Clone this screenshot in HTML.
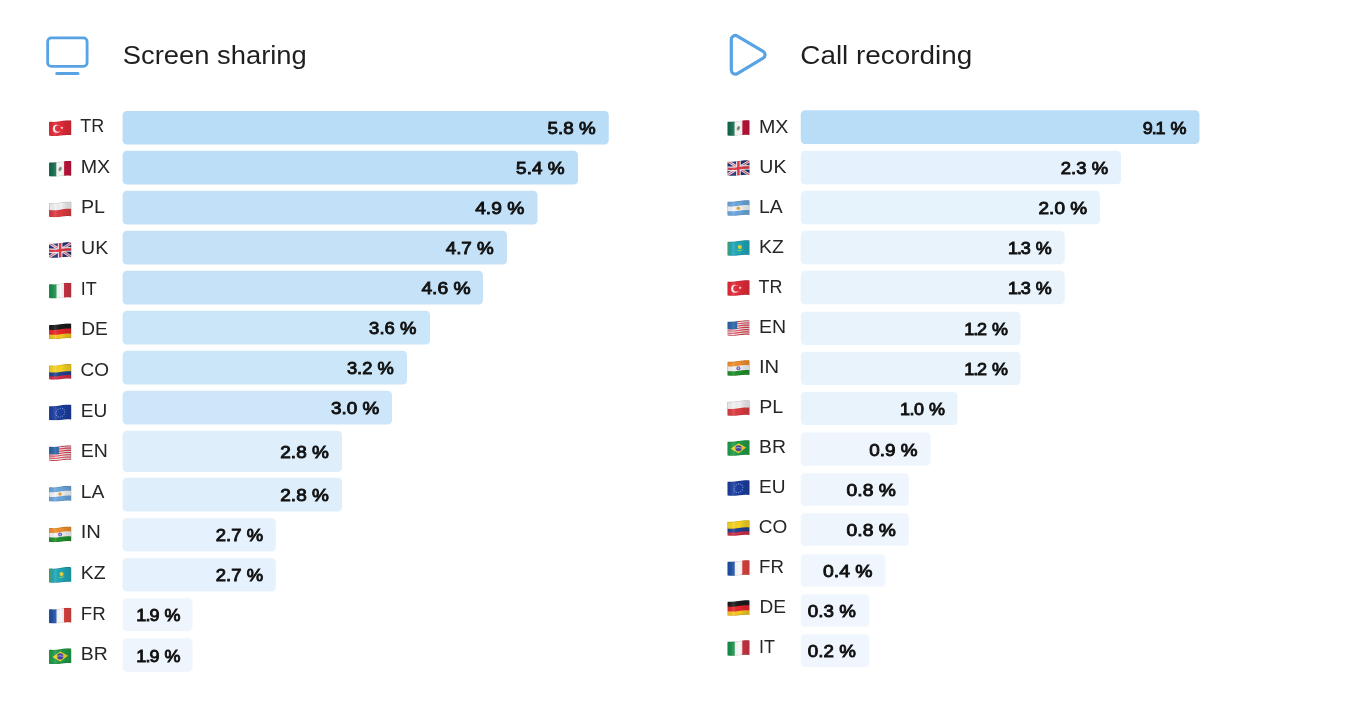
<!DOCTYPE html>
<html lang="en">
<head>
<meta charset="utf-8">
<title>Screen sharing and call recording usage by country</title>
<style>

html,body{margin:0;padding:0;background:#fff;}
body{width:1360px;height:706px;overflow:hidden;position:relative;font-family:"Liberation Sans", sans-serif;}
.defs{position:absolute;left:0;top:0;width:0;height:0;overflow:hidden;}
.board{position:absolute;left:0;top:0;width:1360px;height:706px;overflow:hidden;background:#fff;}
.chart,.rows,.row,.chart-head{margin:0;padding:0;list-style:none;}
.icon{position:absolute;overflow:visible;}
.title{position:absolute;margin:0;font-weight:400;color:#1f1f1f;white-space:nowrap;transform-origin:0 0;}
.flag{position:absolute;display:block;overflow:visible;}
.code{position:absolute;font-weight:400;color:#262626;white-space:nowrap;transform-origin:0 0;}
.bar{position:absolute;display:block;overflow:visible;}
.val{position:absolute;font-weight:400;color:#111111;-webkit-text-stroke:0.9px #111111;white-space:nowrap;transform-origin:0 0;}

</style>
</head>
<body>
<svg class="defs" width="0" height="0" aria-hidden="true" focusable="false"><defs><mask id="fmask" maskUnits="userSpaceOnUse" x="-1" y="-1" width="24" height="18"><path d="M0,2.20 Q0,1.48 0.7,1.54 C4,1.83 7,1.80 11,0.95 C15,0.10 18,-0.10 21.3,0.10 Q22,0.15 22,0.85 L22,14.15 Q22,14.85 21.3,14.80 C18,14.48 15,14.59 11,15.33 C7,16.06 4,16.00 0.7,15.59 Q0,15.53 0,14.85 Z" fill="#fff"/></mask><linearGradient id="fshade" x1="0" y1="0" x2="1" y2="0"><stop offset="0" stop-color="#000" stop-opacity="0.17"/><stop offset="0.09" stop-color="#000" stop-opacity="0.05"/><stop offset="0.30" stop-color="#fff" stop-opacity="0.12"/><stop offset="0.52" stop-color="#000" stop-opacity="0.0"/><stop offset="0.74" stop-color="#000" stop-opacity="0.10"/><stop offset="0.90" stop-color="#000" stop-opacity="0.13"/><stop offset="1" stop-color="#000" stop-opacity="0.08"/></linearGradient><symbol id="flag-tr" viewBox="0 0 22 15.75" preserveAspectRatio="none"><g mask="url(#fmask)"><rect x="-1" y="-1" width="24" height="18" fill="#e12a38"/><circle cx="7.7" cy="8.54" r="4.0" fill="#fbeff0"/><circle cx="9.0" cy="8.28" r="3.2" fill="#e12a38"/><polygon points="14.22,7.12 13.25,7.85 13.60,9.02 12.60,8.32 11.60,9.02 11.95,7.85 10.98,7.12 12.20,7.09 12.60,5.94 13.00,7.09" fill="#fbeff0"/><rect x="-1" y="-1" width="24" height="18" fill="url(#fshade)"/><path d="M0,2.20 Q0,1.48 0.7,1.54 C4,1.83 7,1.80 11,0.95 C15,0.10 18,-0.10 21.3,0.10 Q22,0.15 22,0.85 L22,14.15 Q22,14.85 21.3,14.80 C18,14.48 15,14.59 11,15.33 C7,16.06 4,16.00 0.7,15.59 Q0,15.53 0,14.85 Z" fill="none" stroke="#000" stroke-opacity="0.13" stroke-width="1.3"/></g></symbol><symbol id="flag-mx" viewBox="0 0 22 15.75" preserveAspectRatio="none"><g mask="url(#fmask)"><rect x="-1" y="-1" width="24" height="18" fill="#f8f8f6"/><rect x="-1" y="-1" width="8.1" height="18" fill="#12694d"/><rect x="14.8" y="-1" width="8.2" height="18" fill="#c3143a"/><ellipse cx="10.9" cy="8.16" rx="1.6" ry="2.5" fill="#a3a49a" transform="rotate(25 10.9 8.16)"/><ellipse cx="10.9" cy="8.16" rx="0.8" ry="1.5" fill="#7b7c70" transform="rotate(25 10.9 8.16)"/><rect x="-1" y="-1" width="24" height="18" fill="url(#fshade)"/><path d="M0,2.20 Q0,1.48 0.7,1.54 C4,1.83 7,1.80 11,0.95 C15,0.10 18,-0.10 21.3,0.10 Q22,0.15 22,0.85 L22,14.15 Q22,14.85 21.3,14.80 C18,14.48 15,14.59 11,15.33 C7,16.06 4,16.00 0.7,15.59 Q0,15.53 0,14.85 Z" fill="none" stroke="#000" stroke-opacity="0.13" stroke-width="1.3"/></g></symbol><symbol id="flag-pl" viewBox="0 0 22 15.75" preserveAspectRatio="none"><g mask="url(#fmask)"><rect x="-1" y="-1" width="24" height="18" fill="#dc3b40"/><path d="M0,-1.50 C4,-1.15 7,-1.20 11,-2.05 C15,-2.90 18,-3.10 22,-2.85 L22,7.50 C18,7.19 15,7.35 11,8.14 C7,8.93 4,8.93 0,8.53 Z" fill="#f1f1f3"/><rect x="-1" y="-1" width="24" height="18" fill="url(#fshade)"/><path d="M0,2.20 Q0,1.48 0.7,1.54 C4,1.83 7,1.80 11,0.95 C15,0.10 18,-0.10 21.3,0.10 Q22,0.15 22,0.85 L22,14.15 Q22,14.85 21.3,14.80 C18,14.48 15,14.59 11,15.33 C7,16.06 4,16.00 0.7,15.59 Q0,15.53 0,14.85 Z" fill="none" stroke="#000" stroke-opacity="0.13" stroke-width="1.3"/></g></symbol><symbol id="flag-uk" viewBox="0 0 22 15.75" preserveAspectRatio="none"><g mask="url(#fmask)"><rect x="-1" y="-1" width="24" height="18" fill="#222f74"/><g transform="translate(0,0.75)"><path d="M-1,-0.6 L23,14.8 M23,-0.6 L-1,14.8" stroke="#efeaf0" stroke-width="2.7"/><path d="M-1,-0.6 L23,14.8 M23,-0.6 L-1,14.8" stroke="#d9414d" stroke-width="0.9"/></g><path d="M0,6.23 C4,6.61 7,6.59 11,5.78 C15,4.97 18,4.80 22,5.09 L22,9.91 C18,9.58 15,9.72 11,10.49 C7,11.26 4,11.25 0,10.82 Z" fill="#efeaf0"/><rect x="8.6" y="-1" width="4.6" height="18" fill="#efeaf0"/><path d="M0,7.33 C4,7.72 7,7.71 11,6.91 C15,6.11 18,5.95 22,6.24 L22,8.76 C18,8.44 15,8.58 11,9.37 C7,10.15 4,10.14 0,9.72 Z" fill="#dc3a47"/><rect x="9.7" y="-1" width="2.4" height="18" fill="#dc3a47"/><rect x="-1" y="-1" width="24" height="18" fill="url(#fshade)"/><path d="M0,2.20 Q0,1.48 0.7,1.54 C4,1.83 7,1.80 11,0.95 C15,0.10 18,-0.10 21.3,0.10 Q22,0.15 22,0.85 L22,14.15 Q22,14.85 21.3,14.80 C18,14.48 15,14.59 11,15.33 C7,16.06 4,16.00 0.7,15.59 Q0,15.53 0,14.85 Z" fill="none" stroke="#000" stroke-opacity="0.13" stroke-width="1.3"/></g></symbol><symbol id="flag-it" viewBox="0 0 22 15.75" preserveAspectRatio="none"><g mask="url(#fmask)"><rect x="-1" y="-1" width="24" height="18" fill="#f8f8f7"/><rect x="-1" y="-1" width="8.3" height="18" fill="#168f49"/><rect x="14.7" y="-1" width="8.3" height="18" fill="#cf3545"/><rect x="-1" y="-1" width="24" height="18" fill="url(#fshade)"/><path d="M0,2.20 Q0,1.48 0.7,1.54 C4,1.83 7,1.80 11,0.95 C15,0.10 18,-0.10 21.3,0.10 Q22,0.15 22,0.85 L22,14.15 Q22,14.85 21.3,14.80 C18,14.48 15,14.59 11,15.33 C7,16.06 4,16.00 0.7,15.59 Q0,15.53 0,14.85 Z" fill="none" stroke="#000" stroke-opacity="0.13" stroke-width="1.3"/></g></symbol><symbol id="flag-fr" viewBox="0 0 22 15.75" preserveAspectRatio="none"><g mask="url(#fmask)"><rect x="-1" y="-1" width="24" height="18" fill="#f8f8f8"/><rect x="-1" y="-1" width="8.3" height="18" fill="#1c4ea3"/><rect x="14.7" y="-1" width="8.3" height="18" fill="#e0443f"/><rect x="-1" y="-1" width="24" height="18" fill="url(#fshade)"/><path d="M0,2.20 Q0,1.48 0.7,1.54 C4,1.83 7,1.80 11,0.95 C15,0.10 18,-0.10 21.3,0.10 Q22,0.15 22,0.85 L22,14.15 Q22,14.85 21.3,14.80 C18,14.48 15,14.59 11,15.33 C7,16.06 4,16.00 0.7,15.59 Q0,15.53 0,14.85 Z" fill="none" stroke="#000" stroke-opacity="0.13" stroke-width="1.3"/></g></symbol><symbol id="flag-de" viewBox="0 0 22 15.75" preserveAspectRatio="none"><g mask="url(#fmask)"><rect x="-1" y="-1" width="24" height="18" fill="#f3c621"/><path d="M0,-1.50 C4,-1.15 7,-1.20 11,-2.05 C15,-2.90 18,-3.10 22,-2.85 L22,10.29 C18,9.96 15,10.10 11,10.87 C7,11.64 4,11.63 0,11.19 Z" fill="#e6262b"/><path d="M0,-1.50 C4,-1.15 7,-1.20 11,-2.05 C15,-2.90 18,-3.10 22,-2.85 L22,5.22 C18,4.93 15,5.10 11,5.91 C7,6.72 4,6.74 0,6.35 Z" fill="#1b1b1b"/><rect x="-1" y="-1" width="24" height="18" fill="url(#fshade)"/><path d="M0,2.20 Q0,1.48 0.7,1.54 C4,1.83 7,1.80 11,0.95 C15,0.10 18,-0.10 21.3,0.10 Q22,0.15 22,0.85 L22,14.15 Q22,14.85 21.3,14.80 C18,14.48 15,14.59 11,15.33 C7,16.06 4,16.00 0.7,15.59 Q0,15.53 0,14.85 Z" fill="none" stroke="#000" stroke-opacity="0.13" stroke-width="1.3"/></g></symbol><symbol id="flag-co" viewBox="0 0 22 15.75" preserveAspectRatio="none"><g mask="url(#fmask)"><rect x="-1" y="-1" width="24" height="18" fill="#cf2d47"/><path d="M0,-1.50 C4,-1.15 7,-1.20 11,-2.05 C15,-2.90 18,-3.10 22,-2.85 L22,11.32 C18,10.98 15,11.11 11,11.88 C7,12.64 4,12.62 0,12.18 Z" fill="#22418f"/><path d="M0,-1.50 C4,-1.15 7,-1.20 11,-2.05 C15,-2.90 18,-3.10 22,-2.85 L22,7.35 C18,7.05 15,7.20 11,7.99 C7,8.79 4,8.79 0,8.38 Z" fill="#f5d223"/><rect x="-1" y="-1" width="24" height="18" fill="url(#fshade)"/><path d="M0,2.20 Q0,1.48 0.7,1.54 C4,1.83 7,1.80 11,0.95 C15,0.10 18,-0.10 21.3,0.10 Q22,0.15 22,0.85 L22,14.15 Q22,14.85 21.3,14.80 C18,14.48 15,14.59 11,15.33 C7,16.06 4,16.00 0.7,15.59 Q0,15.53 0,14.85 Z" fill="none" stroke="#000" stroke-opacity="0.13" stroke-width="1.3"/></g></symbol><symbol id="flag-eu" viewBox="0 0 22 15.75" preserveAspectRatio="none"><g mask="url(#fmask)"><rect x="-1" y="-1" width="24" height="18" fill="#1b3d9e"/><circle cx="15.40" cy="7.48" r="0.6" fill="#7f9fe0"/><circle cx="14.81" cy="9.72" r="0.6" fill="#7f9fe0"/><circle cx="13.20" cy="11.52" r="0.6" fill="#7f9fe0"/><circle cx="11.00" cy="12.49" r="0.6" fill="#7f9fe0"/><circle cx="8.80" cy="12.28" r="0.6" fill="#7f9fe0"/><circle cx="7.19" cy="10.86" r="0.6" fill="#7f9fe0"/><circle cx="6.60" cy="8.73" r="0.6" fill="#7f9fe0"/><circle cx="7.19" cy="6.51" r="0.6" fill="#7f9fe0"/><circle cx="8.80" cy="4.74" r="0.6" fill="#7f9fe0"/><circle cx="11.00" cy="3.78" r="0.6" fill="#7f9fe0"/><circle cx="13.20" cy="3.98" r="0.6" fill="#7f9fe0"/><circle cx="14.81" cy="5.37" r="0.6" fill="#7f9fe0"/><rect x="-1" y="-1" width="24" height="18" fill="url(#fshade)"/><path d="M0,2.20 Q0,1.48 0.7,1.54 C4,1.83 7,1.80 11,0.95 C15,0.10 18,-0.10 21.3,0.10 Q22,0.15 22,0.85 L22,14.15 Q22,14.85 21.3,14.80 C18,14.48 15,14.59 11,15.33 C7,16.06 4,16.00 0.7,15.59 Q0,15.53 0,14.85 Z" fill="none" stroke="#000" stroke-opacity="0.13" stroke-width="1.3"/></g></symbol><symbol id="flag-en" viewBox="0 0 22 15.75" preserveAspectRatio="none"><g mask="url(#fmask)"><rect x="-1" y="-1" width="24" height="18" fill="#f3ecee"/><path d="M0,1.48 C4,1.83 7,1.78 11,0.93 C15,0.08 18,-0.12 22,0.13 L22,1.28 C18,1.02 15,1.21 11,2.06 C7,2.90 4,2.94 0,2.58 Z" fill="#dc4251"/><path d="M0,3.64 C4,4.01 7,3.97 11,3.14 C15,2.31 18,2.12 22,2.39 L22,3.54 C18,3.27 15,3.44 11,4.27 C7,5.09 4,5.12 0,4.74 Z" fill="#dc4251"/><path d="M0,5.80 C4,6.19 7,6.17 11,5.35 C15,4.54 18,4.37 22,4.65 L22,5.80 C18,5.51 15,5.67 11,6.48 C7,7.28 4,7.30 0,6.90 Z" fill="#dc4251"/><path d="M0,7.96 C4,8.37 7,8.36 11,7.56 C15,6.77 18,6.61 22,6.91 L22,8.07 C18,7.75 15,7.90 11,8.69 C7,9.48 4,9.48 0,9.07 Z" fill="#dc4251"/><path d="M0,10.13 C4,10.55 7,10.55 11,9.78 C15,9.00 18,8.85 22,9.18 L22,10.33 C18,10.00 15,10.13 11,10.90 C7,11.67 4,11.66 0,11.23 Z" fill="#dc4251"/><path d="M0,12.29 C4,12.73 7,12.75 11,11.99 C15,11.23 18,11.10 22,11.44 L22,12.59 C18,12.24 15,12.36 11,13.11 C7,13.86 4,13.84 0,13.39 Z" fill="#dc4251"/><path d="M0,14.45 C4,14.91 7,14.94 11,14.20 C15,13.46 18,13.34 22,13.70 L22,14.85 C18,14.48 15,14.59 11,15.33 C7,16.06 4,16.02 0,15.55 Z" fill="#dc4251"/><path d="M-1,-1 L9.6,-1 L9.6,8.85 Q5,9.30 -1,8.99 Z" fill="#2a65a8"/><rect x="-1" y="-1" width="24" height="18" fill="url(#fshade)"/><path d="M0,2.20 Q0,1.48 0.7,1.54 C4,1.83 7,1.80 11,0.95 C15,0.10 18,-0.10 21.3,0.10 Q22,0.15 22,0.85 L22,14.15 Q22,14.85 21.3,14.80 C18,14.48 15,14.59 11,15.33 C7,16.06 4,16.00 0.7,15.59 Q0,15.53 0,14.85 Z" fill="none" stroke="#000" stroke-opacity="0.13" stroke-width="1.3"/></g></symbol><symbol id="flag-la" viewBox="0 0 22 15.75" preserveAspectRatio="none"><g mask="url(#fmask)"><rect x="-1" y="-1" width="24" height="18" fill="#6aa6dc"/><path d="M0,6.18 C4,6.57 7,6.55 11,5.74 C15,4.93 18,4.76 22,5.05 L22,9.95 C18,9.62 15,9.76 11,10.53 C7,11.30 4,11.30 0,10.87 Z" fill="#f4f5f7"/><circle cx="10.8" cy="8.18" r="1.75" fill="#e3a63a"/><rect x="-1" y="-1" width="24" height="18" fill="url(#fshade)"/><path d="M0,2.20 Q0,1.48 0.7,1.54 C4,1.83 7,1.80 11,0.95 C15,0.10 18,-0.10 21.3,0.10 Q22,0.15 22,0.85 L22,14.15 Q22,14.85 21.3,14.80 C18,14.48 15,14.59 11,15.33 C7,16.06 4,16.00 0.7,15.59 Q0,15.53 0,14.85 Z" fill="none" stroke="#000" stroke-opacity="0.13" stroke-width="1.3"/></g></symbol><symbol id="flag-in" viewBox="0 0 22 15.75" preserveAspectRatio="none"><g mask="url(#fmask)"><rect x="-1" y="-1" width="24" height="18" fill="#1f8e2b"/><path d="M0,-1.50 C4,-1.15 7,-1.20 11,-2.05 C15,-2.90 18,-3.10 22,-2.85 L22,9.95 C18,9.62 15,9.76 11,10.53 C7,11.30 4,11.30 0,10.87 Z" fill="#f2f2f4"/><path d="M0,-1.50 C4,-1.15 7,-1.20 11,-2.05 C15,-2.90 18,-3.10 22,-2.85 L22,5.05 C18,4.76 15,4.93 11,5.74 C7,6.55 4,6.57 0,6.18 Z" fill="#ef8e2c"/><circle cx="10.9" cy="8.16" r="2.0" fill="#6761b4"/><circle cx="10.9" cy="8.16" r="0.95" fill="#bdb9e6"/><rect x="-1" y="-1" width="24" height="18" fill="url(#fshade)"/><path d="M0,2.20 Q0,1.48 0.7,1.54 C4,1.83 7,1.80 11,0.95 C15,0.10 18,-0.10 21.3,0.10 Q22,0.15 22,0.85 L22,14.15 Q22,14.85 21.3,14.80 C18,14.48 15,14.59 11,15.33 C7,16.06 4,16.00 0.7,15.59 Q0,15.53 0,14.85 Z" fill="none" stroke="#000" stroke-opacity="0.13" stroke-width="1.3"/></g></symbol><symbol id="flag-kz" viewBox="0 0 22 15.75" preserveAspectRatio="none"><g mask="url(#fmask)"><rect x="-1" y="-1" width="24" height="18" fill="#1ea6b8"/><rect x="-1" y="-1" width="3.3" height="18" fill="#43a57c"/><circle cx="12.3" cy="6.91" r="2.0" fill="#e6d43c"/><path d="M8.7,9.61 Q12.3,13.14 15.9,8.54 Q12.3,10.77 8.7,9.61 Z" fill="#86c558"/><rect x="-1" y="-1" width="24" height="18" fill="url(#fshade)"/><path d="M0,2.20 Q0,1.48 0.7,1.54 C4,1.83 7,1.80 11,0.95 C15,0.10 18,-0.10 21.3,0.10 Q22,0.15 22,0.85 L22,14.15 Q22,14.85 21.3,14.80 C18,14.48 15,14.59 11,15.33 C7,16.06 4,16.00 0.7,15.59 Q0,15.53 0,14.85 Z" fill="none" stroke="#000" stroke-opacity="0.13" stroke-width="1.3"/></g></symbol><symbol id="flag-br" viewBox="0 0 22 15.75" preserveAspectRatio="none"><g mask="url(#fmask)"><rect x="-1" y="-1" width="24" height="18" fill="#1f9b47"/><polygon points="3.3,8.77 11,3.09 18.7,7.35 11,13.18" fill="#f2d12f"/><circle cx="11" cy="8.14" r="3.1" fill="#48449a"/><path d="M8.0,8.01 Q11,6.75 14.0,8.14" stroke="#cfd4ee" stroke-width="0.7" fill="none"/><rect x="-1" y="-1" width="24" height="18" fill="url(#fshade)"/><path d="M0,2.20 Q0,1.48 0.7,1.54 C4,1.83 7,1.80 11,0.95 C15,0.10 18,-0.10 21.3,0.10 Q22,0.15 22,0.85 L22,14.15 Q22,14.85 21.3,14.80 C18,14.48 15,14.59 11,15.33 C7,16.06 4,16.00 0.7,15.59 Q0,15.53 0,14.85 Z" fill="none" stroke="#000" stroke-opacity="0.13" stroke-width="1.3"/></g></symbol></defs></svg>
<main class="board">
<section class="chart" aria-label="Screen sharing">
<header class="chart-head">
<svg class="icon" style="left:0;top:0" width="110" height="90" viewBox="0 0 110 90" aria-hidden="true"><rect x="47.65" y="37.9" width="39.45" height="28.45" rx="3.7" ry="3.7" fill="none" stroke="#57a3e4" stroke-width="2.8"/><line x1="56.75" y1="73.5" x2="78.0" y2="73.5" stroke="#57a3e4" stroke-width="3" stroke-linecap="round"/></svg>
<h2 class="title" style="left:122px;top:40px;font-size:25.9px;line-height:30px;transform:translateX(0.74px) scaleX(1.0568)">Screen sharing</h2>
</header>
<ul class="rows">
<li class="row">
<svg class="flag" style="left:48px;top:119px" width="26" height="19" role="img" aria-label="Turkey"><use href="#flag-tr" x="1.05" y="1.25" width="22.4" height="15.75"/></svg>
<span class="code" style="left:80px;top:114px;font-size:18.4px;line-height:23px;transform:translateX(0.22px) scaleX(0.9745)">TR</span>
<svg class="bar" style="left:121px;top:110px" width="489" height="36" aria-hidden="true"><rect x="1.60" y="1.00" width="486.15" height="33.50" rx="4.3" ry="4.3" fill="#b9dcf7"/></svg>
<span class="val" style="left:547px;top:117px;font-size:17.3px;line-height:22px;transform:translateX(0.61px) scaleX(1.0872)">5.8 %</span>
</li>
<li class="row">
<svg class="flag" style="left:48px;top:159px" width="26" height="19" role="img" aria-label="Mexico"><use href="#flag-mx" x="1.05" y="1.87" width="22.4" height="15.75"/></svg>
<span class="code" style="left:80px;top:155px;font-size:18.4px;line-height:23px;transform:translateX(0.71px) scaleX(1.0688)">MX</span>
<svg class="bar" style="left:121px;top:149px" width="458" height="37" aria-hidden="true"><rect x="1.60" y="1.75" width="455.40" height="33.75" rx="4.3" ry="4.3" fill="#bcdef7"/></svg>
<span class="val" style="left:516px;top:157px;font-size:17.3px;line-height:22px;transform:translateX(0.11px) scaleX(1.0965)">5.4 %</span>
</li>
<li class="row">
<svg class="flag" style="left:48px;top:200px" width="26" height="19" role="img" aria-label="Poland"><use href="#flag-pl" x="1.05" y="1.49" width="22.4" height="15.75"/></svg>
<span class="code" style="left:80px;top:195px;font-size:18.4px;line-height:23px;transform:translateX(0.97px) scaleX(1.0674)">PL</span>
<svg class="bar" style="left:121px;top:189px" width="418" height="37" aria-hidden="true"><rect x="1.60" y="1.75" width="414.90" height="33.75" rx="4.3" ry="4.3" fill="#c2e0f8"/></svg>
<span class="val" style="left:475px;top:197px;font-size:17.3px;line-height:22px;transform:translateX(0.15px) scaleX(1.1127)">4.9 %</span>
</li>
<li class="row">
<svg class="flag" style="left:48px;top:241px" width="26" height="19" role="img" aria-label="United Kingdom"><use href="#flag-uk" x="1.05" y="1.11" width="22.4" height="15.75"/></svg>
<span class="code" style="left:81px;top:236px;font-size:18.4px;line-height:23px;transform:translateX(0.03px) scaleX(1.0635)">UK</span>
<svg class="bar" style="left:121px;top:229px" width="387" height="37" aria-hidden="true"><rect x="1.60" y="1.75" width="384.40" height="33.75" rx="4.3" ry="4.3" fill="#c4e1f8"/></svg>
<span class="val" style="left:445px;top:237px;font-size:17.3px;line-height:22px;transform:translateX(0.66px) scaleX(1.0897)">4.7 %</span>
</li>
<li class="row">
<svg class="flag" style="left:48px;top:281px" width="26" height="19" role="img" aria-label="Italy"><use href="#flag-it" x="1.05" y="1.73" width="22.4" height="15.75"/></svg>
<span class="code" style="left:80px;top:277px;font-size:18.4px;line-height:23px;transform:translateX(0.85px) scaleX(0.9761)">IT</span>
<svg class="bar" style="left:121px;top:269px" width="363" height="37" aria-hidden="true"><rect x="1.60" y="1.75" width="360.40" height="33.75" rx="4.3" ry="4.3" fill="#c5e2f8"/></svg>
<span class="val" style="left:421px;top:277px;font-size:17.3px;line-height:22px;transform:translateX(0.40px) scaleX(1.1127)">4.6 %</span>
</li>
<li class="row">
<svg class="flag" style="left:48px;top:322px" width="26" height="19" role="img" aria-label="Germany"><use href="#flag-de" x="1.05" y="1.35" width="22.4" height="15.75"/></svg>
<span class="code" style="left:81px;top:317px;font-size:18.4px;line-height:23px;transform:translateX(0.16px) scaleX(1.0385)">DE</span>
<svg class="bar" style="left:121px;top:309px" width="310" height="37" aria-hidden="true"><rect x="1.60" y="1.75" width="307.40" height="33.75" rx="4.3" ry="4.3" fill="#cbe5f9"/></svg>
<span class="val" style="left:369px;top:317px;font-size:17.3px;line-height:22px;transform:translateX(0.12px) scaleX(1.0676)">3.6 %</span>
</li>
<li class="row">
<svg class="flag" style="left:48px;top:362px" width="26" height="19" role="img" aria-label="Colombia"><use href="#flag-co" x="1.05" y="1.97" width="22.4" height="15.75"/></svg>
<span class="code" style="left:80px;top:358px;font-size:18.4px;line-height:23px;transform:translateX(0.61px) scaleX(1.0313)">CO</span>
<svg class="bar" style="left:121px;top:349px" width="287" height="37" aria-hidden="true"><rect x="1.60" y="1.75" width="284.40" height="33.75" rx="4.3" ry="4.3" fill="#cce6f9"/></svg>
<span class="val" style="left:346px;top:357px;font-size:17.3px;line-height:22px;transform:translateX(0.88px) scaleX(1.0618)">3.2 %</span>
</li>
<li class="row">
<svg class="flag" style="left:48px;top:403px" width="26" height="19" role="img" aria-label="European Union"><use href="#flag-eu" x="1.05" y="1.59" width="22.4" height="15.75"/></svg>
<span class="code" style="left:80px;top:399px;font-size:18.4px;line-height:23px;transform:translateX(0.76px) scaleX(1.0367)">EU</span>
<svg class="bar" style="left:121px;top:389px" width="272" height="37" aria-hidden="true"><rect x="1.60" y="1.75" width="269.40" height="33.75" rx="4.3" ry="4.3" fill="#cde6f9"/></svg>
<span class="val" style="left:331px;top:397px;font-size:17.3px;line-height:22px;transform:translateX(0.11px) scaleX(1.0907)">3.0 %</span>
</li>
<li class="row">
<svg class="flag" style="left:48px;top:444px" width="26" height="19" role="img" aria-label="United States"><use href="#flag-en" x="1.05" y="1.21" width="22.4" height="15.75"/></svg>
<span class="code" style="left:80px;top:439px;font-size:18.4px;line-height:23px;transform:translateX(0.72px) scaleX(1.0609)">EN</span>
<svg class="bar" style="left:121px;top:429px" width="222" height="44" aria-hidden="true"><rect x="1.60" y="1.75" width="219.40" height="41.15" rx="4.3" ry="4.3" fill="#deeefb"/></svg>
<span class="val" style="left:280px;top:441px;font-size:17.3px;line-height:22px;transform:translateX(0.31px) scaleX(1.0976)">2.8 %</span>
</li>
<li class="row">
<svg class="flag" style="left:48px;top:484px" width="26" height="19" role="img" aria-label="Argentina"><use href="#flag-la" x="1.05" y="1.83" width="22.4" height="15.75"/></svg>
<span class="code" style="left:80px;top:480px;font-size:18.4px;line-height:23px;transform:translateX(0.74px) scaleX(1.0516)">LA</span>
<svg class="bar" style="left:121px;top:476px" width="222" height="37" aria-hidden="true"><rect x="1.60" y="1.70" width="219.40" height="33.80" rx="4.3" ry="4.3" fill="#deeefb"/></svg>
<span class="val" style="left:280px;top:484px;font-size:17.3px;line-height:22px;transform:translateX(0.31px) scaleX(1.0976)">2.8 %</span>
</li>
<li class="row">
<svg class="flag" style="left:48px;top:525px" width="26" height="19" role="img" aria-label="India"><use href="#flag-in" x="1.05" y="1.45" width="22.4" height="15.75"/></svg>
<span class="code" style="left:80px;top:520px;font-size:18.4px;line-height:23px;transform:translateX(0.67px) scaleX(1.0995)">IN</span>
<svg class="bar" style="left:121px;top:517px" width="156" height="36" aria-hidden="true"><rect x="1.60" y="1.25" width="153.15" height="33.25" rx="4.3" ry="4.3" fill="#e5f1fc"/></svg>
<span class="val" style="left:215px;top:524px;font-size:17.3px;line-height:22px;transform:translateX(0.83px) scaleX(1.0685)">2.7 %</span>
</li>
<li class="row">
<svg class="flag" style="left:48px;top:566px" width="26" height="19" role="img" aria-label="Kazakhstan"><use href="#flag-kz" x="1.05" y="1.07" width="22.4" height="15.75"/></svg>
<span class="code" style="left:80px;top:561px;font-size:18.4px;line-height:23px;transform:translateX(0.73px) scaleX(1.0570)">KZ</span>
<svg class="bar" style="left:121px;top:557px" width="156" height="36" aria-hidden="true"><rect x="1.60" y="1.25" width="153.15" height="33.25" rx="4.3" ry="4.3" fill="#e5f1fc"/></svg>
<span class="val" style="left:215px;top:564px;font-size:17.3px;line-height:22px;transform:translateX(0.83px) scaleX(1.0685)">2.7 %</span>
</li>
<li class="row">
<svg class="flag" style="left:48px;top:606px" width="26" height="19" role="img" aria-label="France"><use href="#flag-fr" x="1.05" y="1.69" width="22.4" height="15.75"/></svg>
<span class="code" style="left:80px;top:602px;font-size:18.4px;line-height:23px;transform:translateX(0.79px) scaleX(1.0133)">FR</span>
<svg class="bar" style="left:121px;top:597px" width="73" height="36" aria-hidden="true"><rect x="1.60" y="1.25" width="69.90" height="33.00" rx="4.3" ry="4.3" fill="#eef5fd"/></svg>
<span class="val" style="left:136px;top:604px;font-size:17.3px;line-height:22px;letter-spacing:-0.84px;word-spacing:1.68px;transform:translateX(0.33px) scaleX(1.0400)">1.9 %</span>
</li>
<li class="row">
<svg class="flag" style="left:48px;top:647px" width="26" height="19" role="img" aria-label="Brazil"><use href="#flag-br" x="1.05" y="1.31" width="22.4" height="15.75"/></svg>
<span class="code" style="left:80px;top:642px;font-size:18.4px;line-height:23px;transform:translateX(0.74px) scaleX(1.0539)">BR</span>
<svg class="bar" style="left:121px;top:637px" width="73" height="36" aria-hidden="true"><rect x="1.60" y="1.25" width="69.90" height="33.50" rx="4.3" ry="4.3" fill="#eef5fd"/></svg>
<span class="val" style="left:136px;top:645px;font-size:17.3px;line-height:22px;letter-spacing:-0.84px;word-spacing:1.68px;transform:translateX(0.33px) scaleX(1.0400)">1.9 %</span>
</li>
</ul></section>
<section class="chart" aria-label="Call recording">
<header class="chart-head">
<svg class="icon" style="left:0;top:0" width="800" height="90" viewBox="0 0 800 90" aria-hidden="true"><path d="M731.30,39.52 A4.0,4.0 0 0 1 737.34,36.08 L763.11,51.36 A4.0,4.0 0 0 1 763.11,58.24 L737.34,73.56 A4.0,4.0 0 0 1 731.30,70.12 Z" fill="none" stroke="#57a3e4" stroke-width="3.2" stroke-linejoin="round"/></svg>
<h2 class="title" style="left:800px;top:40px;font-size:25.9px;line-height:30px;transform:translateX(0.29px) scaleX(1.0762)">Call recording</h2>
</header>
<ul class="rows">
<li class="row">
<svg class="flag" style="left:726px;top:119px" width="26" height="19" role="img" aria-label="Mexico"><use href="#flag-mx" x="1.30" y="1.10" width="22.4" height="15.75"/></svg>
<span class="code" style="left:758px;top:115px;font-size:18.4px;line-height:23px;transform:translateX(0.96px) scaleX(1.0688)">MX</span>
<svg class="bar" style="left:799px;top:109px" width="402" height="36" aria-hidden="true"><rect x="1.75" y="1.25" width="398.75" height="33.75" rx="4.3" ry="4.3" fill="#b9dcf7"/></svg>
<span class="val" style="left:1142px;top:117px;font-size:17.3px;line-height:22px;letter-spacing:-1.10px;word-spacing:2.20px;transform:translateX(0.87px) scaleX(1.0400)">9.1 %</span>
</li>
<li class="row">
<svg class="flag" style="left:726px;top:159px" width="26" height="19" role="img" aria-label="United Kingdom"><use href="#flag-uk" x="1.30" y="1.10" width="22.4" height="15.75"/></svg>
<span class="code" style="left:759px;top:155px;font-size:18.4px;line-height:23px;transform:translateX(0.28px) scaleX(1.0635)">UK</span>
<svg class="bar" style="left:799px;top:149px" width="323" height="37" aria-hidden="true"><rect x="1.75" y="1.75" width="320.25" height="33.50" rx="4.3" ry="4.3" fill="#e5f1fc"/></svg>
<span class="val" style="left:1060px;top:157px;font-size:17.3px;line-height:22px;transform:translateX(0.83px) scaleX(1.0685)">2.3 %</span>
</li>
<li class="row">
<svg class="flag" style="left:726px;top:199px" width="26" height="19" role="img" aria-label="Argentina"><use href="#flag-la" x="1.30" y="1.10" width="22.4" height="15.75"/></svg>
<span class="code" style="left:758px;top:195px;font-size:18.4px;line-height:23px;transform:translateX(0.99px) scaleX(1.0516)">LA</span>
<svg class="bar" style="left:799px;top:189px" width="302" height="37" aria-hidden="true"><rect x="1.75" y="1.75" width="299.25" height="33.50" rx="4.3" ry="4.3" fill="#e6f2fc"/></svg>
<span class="val" style="left:1038px;top:197px;font-size:17.3px;line-height:22px;transform:translateX(0.56px) scaleX(1.0976)">2.0 %</span>
</li>
<li class="row">
<svg class="flag" style="left:726px;top:239px" width="26" height="19" role="img" aria-label="Kazakhstan"><use href="#flag-kz" x="1.30" y="1.10" width="22.4" height="15.75"/></svg>
<span class="code" style="left:758px;top:235px;font-size:18.4px;line-height:23px;transform:translateX(0.98px) scaleX(1.0570)">KZ</span>
<svg class="bar" style="left:799px;top:229px" width="267" height="37" aria-hidden="true"><rect x="1.75" y="1.75" width="264.00" height="33.50" rx="4.3" ry="4.3" fill="#e8f3fc"/></svg>
<span class="val" style="left:1008px;top:237px;font-size:17.3px;line-height:22px;letter-spacing:-1.08px;word-spacing:2.16px;transform:translateX(0.08px) scaleX(1.0400)">1.3 %</span>
</li>
<li class="row">
<svg class="flag" style="left:726px;top:279px" width="26" height="19" role="img" aria-label="Turkey"><use href="#flag-tr" x="1.30" y="1.10" width="22.4" height="15.75"/></svg>
<span class="code" style="left:758px;top:275px;font-size:18.4px;line-height:23px;transform:translateX(0.47px) scaleX(0.9745)">TR</span>
<svg class="bar" style="left:799px;top:269px" width="267" height="37" aria-hidden="true"><rect x="1.75" y="1.75" width="264.00" height="33.50" rx="4.3" ry="4.3" fill="#e8f3fc"/></svg>
<span class="val" style="left:1008px;top:277px;font-size:17.3px;line-height:22px;letter-spacing:-1.08px;word-spacing:2.16px;transform:translateX(0.08px) scaleX(1.0400)">1.3 %</span>
</li>
<li class="row">
<svg class="flag" style="left:726px;top:319px" width="26" height="19" role="img" aria-label="United States"><use href="#flag-en" x="1.30" y="1.10" width="22.4" height="15.75"/></svg>
<span class="code" style="left:758px;top:315px;font-size:18.4px;line-height:23px;transform:translateX(0.97px) scaleX(1.0609)">EN</span>
<svg class="bar" style="left:799px;top:310px" width="223" height="36" aria-hidden="true"><rect x="1.75" y="1.75" width="219.75" height="33.25" rx="4.3" ry="4.3" fill="#e9f3fc"/></svg>
<span class="val" style="left:964px;top:318px;font-size:17.3px;line-height:22px;letter-spacing:-1.08px;word-spacing:2.16px;transform:translateX(0.33px) scaleX(1.0400)">1.2 %</span>
</li>
<li class="row">
<svg class="flag" style="left:726px;top:359px" width="26" height="19" role="img" aria-label="India"><use href="#flag-in" x="1.30" y="1.10" width="22.4" height="15.75"/></svg>
<span class="code" style="left:758px;top:355px;font-size:18.4px;line-height:23px;transform:translateX(0.92px) scaleX(1.0995)">IN</span>
<svg class="bar" style="left:799px;top:350px" width="223" height="36" aria-hidden="true"><rect x="1.75" y="1.75" width="219.75" height="33.25" rx="4.3" ry="4.3" fill="#e9f3fc"/></svg>
<span class="val" style="left:964px;top:358px;font-size:17.3px;line-height:22px;letter-spacing:-1.08px;word-spacing:2.16px;transform:translateX(0.33px) scaleX(1.0400)">1.2 %</span>
</li>
<li class="row">
<svg class="flag" style="left:726px;top:399px" width="26" height="19" role="img" aria-label="Poland"><use href="#flag-pl" x="1.30" y="1.10" width="22.4" height="15.75"/></svg>
<span class="code" style="left:759px;top:395px;font-size:18.4px;line-height:23px;transform:translateX(0.22px) scaleX(1.0674)">PL</span>
<svg class="bar" style="left:799px;top:391px" width="160" height="35" aria-hidden="true"><rect x="1.75" y="1.00" width="156.75" height="33.00" rx="4.3" ry="4.3" fill="#e9f3fc"/></svg>
<span class="val" style="left:900px;top:398px;font-size:17.3px;line-height:22px;letter-spacing:-0.48px;word-spacing:0.96px;transform:translateX(0.08px) scaleX(1.0400)">1.0 %</span>
</li>
<li class="row">
<svg class="flag" style="left:726px;top:439px" width="26" height="19" role="img" aria-label="Brazil"><use href="#flag-br" x="1.30" y="1.10" width="22.4" height="15.75"/></svg>
<span class="code" style="left:758px;top:435px;font-size:18.4px;line-height:23px;transform:translateX(0.99px) scaleX(1.0539)">BR</span>
<svg class="bar" style="left:799px;top:431px" width="133" height="36" aria-hidden="true"><rect x="1.75" y="1.50" width="129.75" height="33.25" rx="4.3" ry="4.3" fill="#eef5fd"/></svg>
<span class="val" style="left:869px;top:439px;font-size:17.3px;line-height:22px;transform:translateX(0.36px) scaleX(1.0907)">0.9 %</span>
</li>
<li class="row">
<svg class="flag" style="left:726px;top:479px" width="26" height="19" role="img" aria-label="European Union"><use href="#flag-eu" x="1.30" y="1.10" width="22.4" height="15.75"/></svg>
<span class="code" style="left:759px;top:475px;font-size:18.4px;line-height:23px;transform:translateX(0.01px) scaleX(1.0367)">EU</span>
<svg class="bar" style="left:799px;top:472px" width="111" height="35" aria-hidden="true"><rect x="1.75" y="1.25" width="108.00" height="32.50" rx="4.3" ry="4.3" fill="#eef5fd"/></svg>
<span class="val" style="left:846px;top:479px;font-size:17.3px;line-height:22px;transform:translateX(0.60px) scaleX(1.1139)">0.8 %</span>
</li>
<li class="row">
<svg class="flag" style="left:726px;top:519px" width="26" height="19" role="img" aria-label="Colombia"><use href="#flag-co" x="1.30" y="1.10" width="22.4" height="15.75"/></svg>
<span class="code" style="left:758px;top:515px;font-size:18.4px;line-height:23px;transform:translateX(0.86px) scaleX(1.0313)">CO</span>
<svg class="bar" style="left:799px;top:512px" width="111" height="35" aria-hidden="true"><rect x="1.75" y="1.25" width="108.00" height="32.50" rx="4.3" ry="4.3" fill="#eef5fd"/></svg>
<span class="val" style="left:846px;top:519px;font-size:17.3px;line-height:22px;transform:translateX(0.60px) scaleX(1.1139)">0.8 %</span>
</li>
<li class="row">
<svg class="flag" style="left:726px;top:559px" width="26" height="19" role="img" aria-label="France"><use href="#flag-fr" x="1.30" y="1.10" width="22.4" height="15.75"/></svg>
<span class="code" style="left:759px;top:555px;font-size:18.4px;line-height:23px;transform:translateX(0.04px) scaleX(1.0133)">FR</span>
<svg class="bar" style="left:799px;top:553px" width="88" height="35" aria-hidden="true"><rect x="1.75" y="1.25" width="84.75" height="32.50" rx="4.3" ry="4.3" fill="#eff6fd"/></svg>
<span class="val" style="left:823px;top:560px;font-size:17.3px;line-height:22px;transform:translateX(0.09px) scaleX(1.1197)">0.4 %</span>
</li>
<li class="row">
<svg class="flag" style="left:726px;top:599px" width="26" height="19" role="img" aria-label="Germany"><use href="#flag-de" x="1.30" y="1.10" width="22.4" height="15.75"/></svg>
<span class="code" style="left:759px;top:595px;font-size:18.4px;line-height:23px;transform:translateX(0.41px) scaleX(1.0385)">DE</span>
<svg class="bar" style="left:799px;top:593px" width="72" height="35" aria-hidden="true"><rect x="1.75" y="1.25" width="68.50" height="32.50" rx="4.3" ry="4.3" fill="#eff6fd"/></svg>
<span class="val" style="left:807px;top:600px;font-size:17.3px;line-height:22px;letter-spacing:-0.00px;word-spacing:0.00px;transform:translateX(0.86px) scaleX(1.0849)">0.3 %</span>
</li>
<li class="row">
<svg class="flag" style="left:726px;top:639px" width="26" height="19" role="img" aria-label="Italy"><use href="#flag-it" x="1.30" y="1.10" width="22.4" height="15.75"/></svg>
<span class="code" style="left:759px;top:635px;font-size:18.4px;line-height:23px;transform:translateX(0.10px) scaleX(0.9761)">IT</span>
<svg class="bar" style="left:799px;top:633px" width="72" height="35" aria-hidden="true"><rect x="1.75" y="1.25" width="68.50" height="32.75" rx="4.3" ry="4.3" fill="#eff6fd"/></svg>
<span class="val" style="left:807px;top:640px;font-size:17.3px;line-height:22px;letter-spacing:-0.00px;word-spacing:0.00px;transform:translateX(0.86px) scaleX(1.0849)">0.2 %</span>
</li>
</ul></section>
</main>
</body>
</html>
